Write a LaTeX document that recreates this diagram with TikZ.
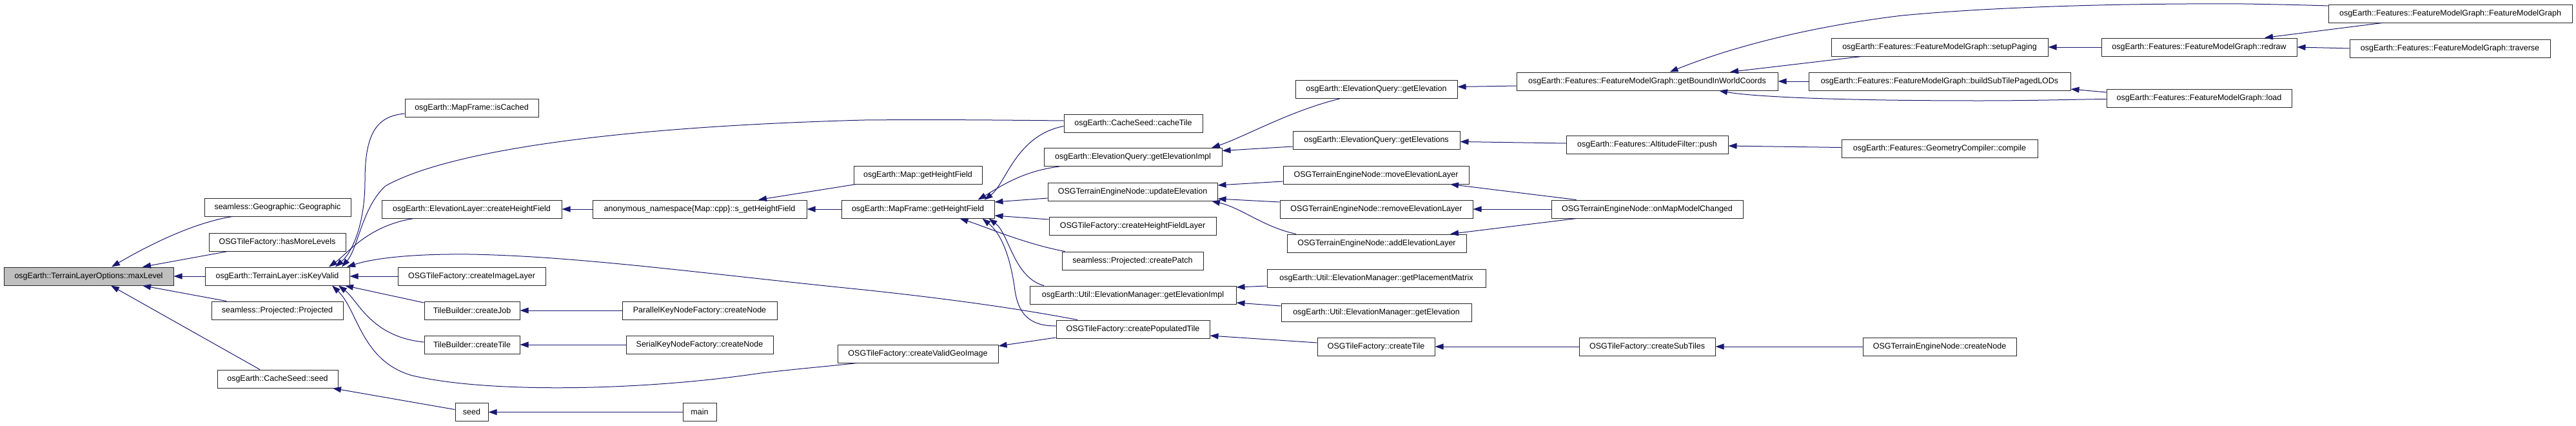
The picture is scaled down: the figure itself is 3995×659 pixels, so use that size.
\documentclass[tikz,border=0pt]{standalone}
\usepackage{fontspec}
\setmainfont{Liberation Sans}
\usetikzlibrary{arrows.meta,calc}
\definecolor{edgeblue}{HTML}{191970}
\definecolor{boxgrey}{HTML}{BFBFBF}
\newcommand{\dnode}[6][]{\node[box,#1,minimum width={#4-#3}] (#2) at ({(#3+#4)/2},#5) {#6};}
\begin{document}
\begin{tikzpicture}[x=1pt,y=-1pt,
  box/.style={draw=black!85,line width=1pt,inner sep=0pt,minimum height=28pt,fill=white,
    font=\fontsize{12.5}{15}\selectfont},
  focus/.style={fill=boxgrey},
  edge/.style={draw=edgeblue,line width=1pt,{Triangle[length=13pt,width=9pt]}-}]
\useasboundingbox (0,0) rectangle (3995,659);
% nodes
\dnode[focus]{maxl}{6}{269}{428}{osgEarth::TerrainLayerOptions::maxLevel}
\dnode{geo}{317}{544}{321}{seamless::Geographic::Geographic}
\dnode{hasmore}{324}{536}{375}{OSGTileFactory::hasMoreLevels}
\dnode{iskey}{318}{542}{428}{osgEarth::TerrainLayer::isKeyValid}
\dnode{proj}{328}{532}{481}{seamless::Projected::Projected}
\dnode{cseed}{337}{524}{587}{osgEarth::CacheSeed::seed}
\dnode{iscached}{628}{835}{167}{osgEarth::MapFrame::isCached}
\dnode{ecreatehf}{592}{871}{324}{osgEarth::ElevationLayer::createHeightField}
\dnode{imagelayer}{617}{846}{428}{OSGTileFactory::createImageLayer}
\dnode{createjob}{658}{806}{481}{TileBuilder::createJob}
\dnode{tbcreatetile}{658}{806}{534}{TileBuilder::createTile}
\dnode{seed}{706}{757}{638.5}{seed}
\dnode{sgethf}{919}{1251}{324}{anonymous\_namespace\{Map::cpp\}::s\_getHeightField}
\dnode{parallel}{965}{1205}{481}{ParallelKeyNodeFactory::createNode}
\dnode{serial}{971}{1199}{534}{SerialKeyNodeFactory::createNode}
\dnode{main}{1059}{1111}{638.5}{main}
\dnode{mapgethf}{1324}{1523}{271}{osgEarth::Map::getHeightField}
\dnode{mfgethf}{1305}{1542}{324}{osgEarth::MapFrame::getHeightField}
\dnode{validgeo}{1299}{1548}{548}{OSGTileFactory::createValidGeoImage}
\dnode{cachetile}{1650}{1865}{191}{osgEarth::CacheSeed::cacheTile}
\dnode{eqimpl}{1619}{1895}{243.5}{osgEarth::ElevationQuery::getElevationImpl}
\dnode{updelev}{1625}{1888}{297}{OSGTerrainEngineNode::updateElevation}
\dnode{hflayer}{1627}{1886}{350}{OSGTileFactory::createHeightFieldLayer}
\dnode{patch}{1647}{1866}{404}{seamless::Projected::createPatch}
\dnode{emimpl}{1597}{1917}{457}{osgEarth::Util::ElevationManager::getElevationImpl}
\dnode{poptile}{1638}{1876}{510}{OSGTileFactory::createPopulatedTile}
\dnode{eqelev}{2009}{2260}{138.5}{osgEarth::ElevationQuery::getElevation}
\dnode{eqelevs}{2005}{2264}{217}{osgEarth::ElevationQuery::getElevations}
\dnode{movelayer}{1990}{2278}{271}{OSGTerrainEngineNode::moveElevationLayer}
\dnode{removelayer}{1985}{2284}{324}{OSGTerrainEngineNode::removeElevationLayer}
\dnode{addlayer}{1996}{2274}{377}{OSGTerrainEngineNode::addElevationLayer}
\dnode{placement}{1965}{2304}{431}{osgEarth::Util::ElevationManager::getPlacementMatrix}
\dnode{emelev}{1987}{2282}{484}{osgEarth::Util::ElevationManager::getElevation}
\dnode{tfcreatetile}{2043}{2225}{537}{OSGTileFactory::createTile}
\dnode{getbound}{2352}{2757}{126}{osgEarth::Features::FeatureModelGraph::getBoundInWorldCoords}
\dnode{push}{2429}{2680}{224}{osgEarth::Features::AltitudeFilter::push}
\dnode{onmap}{2406}{2703}{324}{OSGTerrainEngineNode::onMapModelChanged}
\dnode{subtiles}{2449}{2660}{537}{OSGTileFactory::createSubTiles}
\dnode{setuppaging}{2840}{3176}{73}{osgEarth::Features::FeatureModelGraph::setupPaging}
\dnode{buildsub}{2805}{3211}{126}{osgEarth::Features::FeatureModelGraph::buildSubTilePagedLODs}
\dnode{compile}{2856}{3160}{230.5}{osgEarth::Features::GeometryCompiler::compile}
\dnode{tecreatenode}{2889}{3127}{537}{OSGTerrainEngineNode::createNode}
\dnode{redraw}{3259}{3562}{73}{osgEarth::Features::FeatureModelGraph::redraw}
\dnode{load}{3267}{3554}{152}{osgEarth::Features::FeatureModelGraph::load}
\dnode{fmg}{3611}{3989}{21}{osgEarth::Features::FeatureModelGraph::FeatureModelGraph}
\dnode{traverse}{3644}{3955}{75}{osgEarth::Features::FeatureModelGraph::traverse}
% edges (arrow tip at the callee)
\draw[edge] ($(maxl.north)+(35.5,0)$) .. controls (230,380) and (300,345) .. ($(geo.south)+(-70,0)$);
\draw[edge] ($(maxl.north)+(83.5,0)$) -- ($(hasmore.south)+(-77,0)$);
\draw[edge] (maxl.east) -- (iskey.west);
\draw[edge] ($(maxl.south)+(83.5,0)$) -- ($(proj.north)+(-79,0)$);
\draw[edge] ($(maxl.south)+(34.5,0)$) -- ($(cseed.north)+(-27.5,0)$);
\draw[edge] ($(iskey.north)+(90,0)$) .. controls (545,392) and (566,350) .. (566,280) .. controls (566,205) and (585,180) .. ($(iscached.west)+(0,9)$);
\draw[edge] ($(iskey.north)+(100,0)$) .. controls (555,385) and (562,320) .. (598,288) .. controls (680,242) and (900,198) .. (1340,186) .. controls (1450,185) and (1550,186) .. ($(cachetile.west)+(0,-4)$);
\draw[edge] ($(iskey.north)+(80,0)$) .. controls (540,392) and (570,350) .. ($(ecreatehf.south)+(-90,0)$);
\draw[edge] ($(iskey.north)+(108,0)$) .. controls (580,400) and (640,393) .. (729,394) .. controls (900,397) and (1100,425) .. (1340,449) .. controls (1500,466) and (1600,482) .. ($(poptile.north)+(-86,0)$);
\draw[edge] (iskey.east) -- (imagelayer.west);
\draw[edge] ($(iskey.south)+(105,0)$) -- ($(createjob.west)+(0,-12)$);
\draw[edge] ($(iskey.south)+(95,0)$) .. controls (555,465) and (575,522) .. ($(tbcreatetile.west)+(0,-4)$);
\draw[edge] ($(iskey.south)+(85,0)$) .. controls (555,480) and (560,560) .. (640,582) .. controls (760,610) and (1000,605) .. (1180,578) .. controls (1250,570) and (1300,566) .. ($(validgeo.south)+(-95,0)$);
\draw[edge] (ecreatehf.east) -- (sgethf.west);
\draw[edge] ($(sgethf.north)+(91,0)$) -- ($(mapgethf.south)+(-96,0)$);
\draw[edge] (sgethf.east) -- (mfgethf.west);
\draw[edge] (createjob.east) -- (parallel.west);
\draw[edge] (tbcreatetile.east) -- (serial.west);
\draw[edge] ($(cseed.south)+(85.5,0)$) -- ($(seed.west)+(0,-4)$);
\draw[edge] (seed.east) -- (main.west);
\draw[edge] ($(mfgethf.north)+(103,0)$) .. controls (1560,285) and (1575,210) .. ($(cachetile.west)+(0,4.5)$);
\draw[edge] ($(mfgethf.north)+(93,0)$) .. controls (1550,290) and (1585,265) .. ($(eqimpl.south)+(-114,0)$);
\draw[edge] ($(mfgethf.east)+(0,-11)$) -- ($(updelev.west)+(0,10)$);
\draw[edge] ($(mfgethf.east)+(0,10)$) -- ($(hflayer.west)+(0,-10)$);
\draw[edge] ($(mfgethf.south)+(65,0)$) .. controls (1530,352) and (1590,378) .. ($(patch.north)+(-105,0)$);
\draw[edge] ($(mfgethf.south)+(110,0)$) .. controls (1565,362) and (1572,430) .. ($(emimpl.north)+(-138,0)$);
\draw[edge] ($(mfgethf.south)+(100,0)$) .. controls (1560,368) and (1570,420) .. (1574,450) .. controls (1580,490) and (1600,505) .. ($(poptile.west)+(0,-5)$);
\draw[edge] ($(validgeo.east)+(0,-12)$) -- ($(poptile.west)+(0,13)$);
\draw[edge] ($(eqimpl.north)+(122,0)$) .. controls (1930,212) and (2000,172) .. ($(eqelev.south)+(-57,0)$);
\draw[edge] ($(eqimpl.east)+(0,-10)$) -- ($(eqelevs.west)+(0,10)$);
\draw[edge] ($(updelev.east)+(0,-10)$) -- ($(movelayer.west)+(0,10)$);
\draw[edge] ($(updelev.east)+(0,11)$) -- ($(removelayer.west)+(0,-11)$);
\draw[edge] ($(updelev.south)+(122.5,0)$) .. controls (1925,322) and (1960,352) .. ($(addlayer.north)+(-125,0)$);
\draw[edge] ($(emimpl.east)+(0,-12)$) -- ($(placement.west)+(0,12)$);
\draw[edge] ($(emimpl.east)+(0,12)$) -- ($(emelev.west)+(0,-10)$);
\draw[edge] ($(poptile.east)+(0,10)$) -- ($(tfcreatetile.west)+(0,-6)$);
\draw[edge] ($(eqelev.east)+(0,-4)$) -- ($(getbound.west)+(0,7)$);
\draw[edge] ($(eqelevs.east)+(0,2.5)$) -- ($(push.west)+(0,-2)$);
\draw[edge] ($(movelayer.south)+(115,0)$) -- ($(onmap.north)+(-110,0)$);
\draw[edge] (removelayer.east) -- (onmap.west);
\draw[edge] ($(addlayer.north)+(114,0)$) -- ($(onmap.south)+(-110,0)$);
\draw[edge] (tfcreatetile.east) -- (subtiles.west);
\draw[edge] ($(getbound.north)+(35,0)$) .. controls (2680,75) and (2800,42) .. (2950,24) .. controls (3100,10) and (3300,5) .. (3480,6) .. controls (3540,7) and (3580,8) .. ($(fmg.west)+(0,-12)$);
\draw[edge] ($(getbound.north)+(128.5,0)$) -- ($(setuppaging.south)+(-121,0)$);
\draw[edge] (getbound.east) -- (buildsub.west);
\draw[edge] ($(getbound.south)+(111.5,0)$) .. controls (2720,150) and (2850,156) .. (3070,156) .. controls (3150,156) and (3220,154) .. ($(load.west)+(0,1.5)$);
\draw[edge] ($(push.east)+(0,2)$) -- ($(compile.west)+(0,-2)$);
\draw[edge] (subtiles.east) -- (tecreatenode.west);
\draw[edge] (setuppaging.east) -- (redraw.west);
\draw[edge] ($(buildsub.east)+(0,12)$) -- ($(load.west)+(0,-9)$);
\draw[edge] ($(redraw.north)+(101.5,0)$) -- ($(fmg.south)+(-105.5,0)$);
\draw[edge] (redraw.east) -- (traverse.west);
\end{tikzpicture}
\end{document}
